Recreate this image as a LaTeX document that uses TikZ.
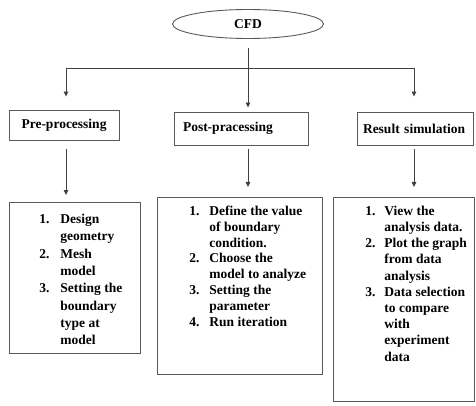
\documentclass[tikz,border=0pt]{standalone}
\usepackage{fontspec}
\setmainfont{Liberation Serif}
\usetikzlibrary{shapes.geometric,arrows.meta}

\begin{document}
\begin{tikzpicture}[x=1pt,y=-1pt,
		font=\bfseries\fontsize{13.5}{17}\selectfont,
		box/.style = {rectangle,draw=black!65,line width=0.9pt,inner sep=0pt},
		link/.style = {draw=black!75,line width=0.8pt},
		arr/.style = {link,-{Triangle[length=5pt,width=4.5pt]}}]

		\useasboundingbox (0,0) rectangle (476,406);

		\node[ellipse,draw=black!65,line width=0.9pt,inner sep=0pt,
			minimum width=151pt,minimum height=29pt] (cfd) at (248,24) {CFD};

		\node[box,minimum width=110pt,minimum height=30pt] (pre) at (64,125) {Pre-processing};
		\node[box,text width=116pt,inner xsep=9pt,minimum height=33pt] (post) at (241,128.5) {Post-pracessing};
		\node[box,text width=104pt,inner xsep=6pt,minimum height=33pt] (res) at (415,128.5) {Result simulation};

		% step lists
		\node[box,anchor=north west] (prelist) at (9,202) {\parbox[t][151pt][t]{131pt}{%
			\fontsize{13.5}{17.3}\selectfont\vspace*{9pt}\hspace*{30pt}%
			\begin{tabular}[t]{@{}p{21pt}@{}l@{}}
			1. & Design\\ & geometry\\
			2. & Mesh\\ & model\\
			3. & Setting the\\ & boundary\\ & type at\\ & model
			\end{tabular}}};
		\node[box,anchor=north west] (postlist) at (157,197) {\parbox[t][177pt][t]{165pt}{%
			\fontsize{13.5}{15.8}\selectfont\vspace*{7pt}\hspace*{32pt}%
			\begin{tabular}[t]{@{}p{20pt}@{}l@{}}
			1. & Define the value\\ & of boundary\\ & condition.\\
			2. & Choose the\\ & model to analyze\\
			3. & Setting the\\ & parameter\\
			4. & Run iteration
			\end{tabular}}};
		\node[box,anchor=north west] (reslist) at (333,197) {\parbox[t][204pt][t]{141pt}{%
			\fontsize{13.5}{16.2}\selectfont\vspace*{6.5pt}\hspace*{32pt}%
			\begin{tabular}[t]{@{}p{19pt}@{}l@{}}
			1. & View the\\ & analysis data.\\
			2. & Plot the graph\\ & from data\\ & analysis\\
			3. & Data selection\\ & to compare\\ & with\\ & experiment\\ & data
			\end{tabular}}};

		\coordinate (jl) at (66,68);
		\coordinate (jr) at (414,68);

		\path[link] (jl) -- (jr);
		\path[arr,shorten <=9pt,shorten >=4pt] (cfd.south) -- (cfd.south |- post.north);
		\path[arr,shorten >=13pt] (jl) -- (jl |- pre.north);
		\path[arr,shorten >=15pt] (jr) -- (jr |- res.north);

		\path[arr,shorten <=9pt,shorten >=7pt] (pre.south -| jl) -- (jl |- prelist.north);
		\path[arr,shorten <=4pt,shorten >=10pt] (cfd.south |- post.south) -- (cfd.south |- postlist.north);
		\path[arr,shorten <=4pt,shorten >=10pt] (jr |- res.south) -- (jr |- reslist.north);
\end{tikzpicture}
\end{document}
